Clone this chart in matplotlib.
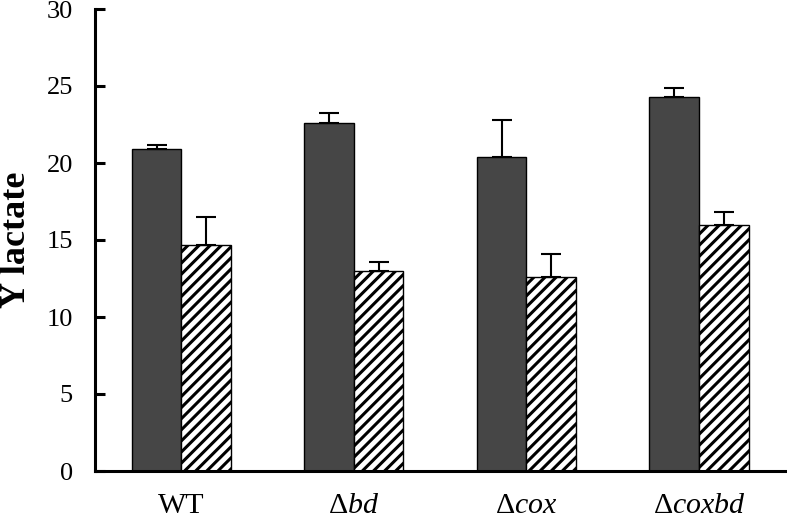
import numpy as np
import matplotlib
matplotlib.use("Agg")
import matplotlib.pyplot as plt

plt.rcParams['font.family'] = ['Liberation Serif', 'DejaVu Serif']
plt.rcParams['mathtext.fontset'] = 'custom'
plt.rcParams['mathtext.rm'] = 'Liberation Serif'
plt.rcParams['mathtext.it'] = 'Liberation Serif:italic'
plt.rcParams['hatch.linewidth'] = 2.2

strains = ['WT', r'$\Delta\mathit{bd}$', r'$\Delta\mathit{cox}$', r'$\Delta\mathit{coxbd}$']
solid_vals = [20.9, 22.6, 20.4, 24.3]
solid_err = [0.25, 0.65, 2.4, 0.6]
hatched_vals = [14.7, 13.0, 12.6, 16.0]
hatched_err = [1.8, 0.55, 1.5, 0.85]
yticks = [0, 5, 10, 15, 20, 25, 30]

fig = plt.figure(figsize=(7.87, 5.26), dpi=100)
ax = fig.add_axes([95 / 787, (526 - 471) / 526, 692 / 787, 462 / 526])

x = np.arange(len(strains))
w = 0.287
err_kw = dict(ecolor='black', elinewidth=1.5, capsize=7, capthick=1.5)
ax.bar(x - w / 2, solid_vals, w, color='#464646', edgecolor='black', linewidth=1,
       yerr=[np.zeros(len(x)), solid_err], error_kw=err_kw, zorder=2)
ax.bar(x + w / 2, hatched_vals, w, color='white', edgecolor='black', linewidth=1,
       hatch='///', yerr=[np.zeros(len(x)), hatched_err], error_kw=err_kw, zorder=2)

ax.set_xlim(-0.5, 3.51)
ax.set_ylim(0, 30)
ax.set_yticks(yticks)
ax.set_xticks(x)
ax.set_xticklabels(strains, fontsize=21.5)
ax.tick_params(axis='x', length=0, pad=16)
ax.tick_params(axis='y', direction='in', length=7, width=2.2, labelsize=19, pad=16)
ax.set_ylabel('Y lactate', fontsize=26, fontweight='bold', labelpad=10)

for s in ['top', 'right']:
    ax.spines[s].set_visible(False)
ax.spines['left'].set_linewidth(2.2)
ax.spines['bottom'].set_linewidth(2.2)

fig.savefig('out.png', dpi=100)
